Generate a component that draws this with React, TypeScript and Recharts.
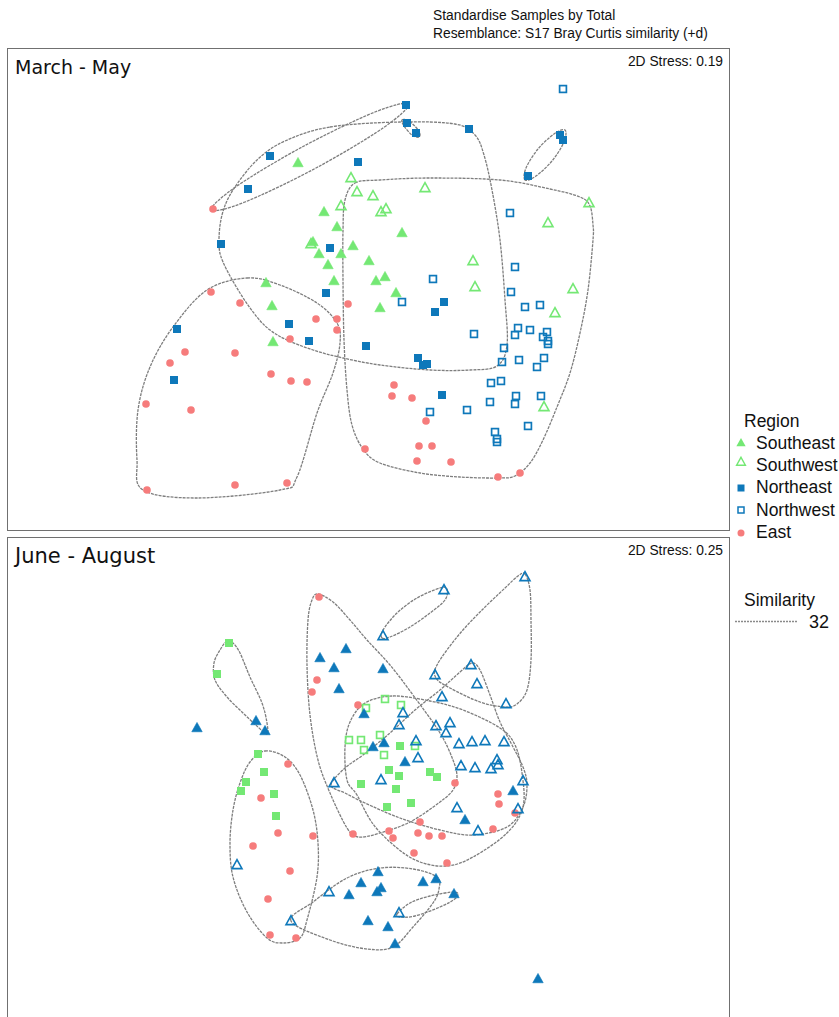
import React from 'react';
import { ScatterChart, Scatter, XAxis, YAxis } from 'recharts';

// ---------- March - May (MDS coordinates, picture units) ----------
const mamSoutheast = [
  [298, 163], [324, 212], [337, 227], [402, 233], [313, 242], [353, 246], [319, 254], [341, 254],
  [328, 265], [369, 261], [334, 281], [376, 281], [385, 277], [266, 283], [396, 293], [272, 306],
  [380, 308], [273, 342],
];
const mamSouthwest = [
  [351, 178], [357, 192], [373, 196], [341, 206], [381, 212], [386, 209], [425, 188], [311, 244],
  [589, 203], [548, 223], [473, 261], [475, 287], [573, 289], [555, 313], [544, 407],
];
const mamNortheast = [
  [406, 105], [407, 123], [416, 133], [469, 129], [560, 135], [563, 140], [528, 176], [270, 156],
  [358, 162], [248, 189], [221, 244], [330, 248], [326, 293], [289, 324], [309, 341], [366, 346],
  [177, 329], [174, 380], [418, 358], [423, 365], [427, 364], [444, 302], [435, 312], [442, 395],
];
const mamNorthwest = [
  [563, 89], [510, 213], [515, 267], [433, 279], [511, 292], [402, 302], [525, 307], [540, 305],
  [518, 328], [530, 330], [547, 332], [515, 335], [474, 334], [543, 337], [548, 341], [548, 344],
  [504, 348], [502, 362], [519, 360], [544, 358], [537, 367], [491, 383], [501, 381], [430, 412],
  [490, 402], [467, 410], [516, 396], [515, 404], [541, 396], [528, 426], [495, 432], [497, 439],
  [497, 442],
];
const mamEast = [
  [213, 209], [211, 292], [240, 303], [348, 304], [316, 319], [337, 319], [337, 330], [290, 339],
  [185, 352], [235, 353], [170, 363], [271, 374], [291, 381], [307, 382], [394, 385], [392, 396],
  [412, 398], [146, 404], [191, 410], [426, 421], [419, 446], [432, 446], [365, 449], [417, 461],
  [451, 462], [498, 477], [520, 473], [235, 485], [287, 483], [147, 490],
];
// similarity 32 contours (traced outlines)
const mamContours = [
  [[211, 210], [237, 186], [304, 146], [375, 112], [409, 104], [383, 128], [316, 168], [245, 202]],
  [[402, 120], [409, 121], [419, 131], [419, 137], [412, 135], [404, 126]],
  [[525, 180], [526, 168], [538, 149], [554, 134], [565, 130], [564, 142], [552, 161], [536, 176]],
  [[330, 127], [400, 122], [455, 124], [475, 135], [484, 155], [492, 190], [500, 240], [505, 300],
   [507, 345], [497, 366], [470, 370], [430, 370], [380, 365], [343, 358], [313, 350], [287, 340],
   [270, 330], [257, 317], [240, 293], [223, 262], [219, 243], [222, 215], [233, 190], [257, 160], [285, 141]],
  [[355, 183], [380, 180], [430, 178], [500, 180], [550, 189], [580, 197], [590, 206], [593, 225],
   [593, 240], [588, 290], [580, 333], [570, 373], [557, 407], [543, 440], [530, 463], [515, 476],
   [498, 478], [460, 477], [420, 473], [380, 463], [363, 449], [352, 425], [347, 390], [344, 340],
   [343, 280], [343, 230], [345, 200]],
  [[247, 278], [280, 285], [317, 303], [337, 323], [340, 343], [333, 373], [317, 413], [297, 477],
   [280, 490], [197, 498], [143, 490], [137, 460], [138, 410], [150, 367], [173, 327], [207, 290]],
];

// ---------- June - August ----------
const jjaGreenFilled = [
  [229, 643], [217, 674], [400, 746], [389, 770], [399, 776], [430, 772], [437, 777], [396, 789],
  [361, 784], [387, 807], [411, 803], [258, 754], [264, 772], [246, 782], [241, 791], [274, 794],
  [276, 816],
];
const jjaGreenHollow = [
  [385, 699], [366, 708], [401, 705], [349, 740], [361, 740], [364, 750], [380, 735], [384, 755],
  [415, 746],
];
const jjaBlueFilled = [
  [346, 649], [320, 658], [334, 668], [383, 669], [339, 689], [364, 714], [256, 721], [265, 731],
  [197, 728], [373, 747], [384, 743], [405, 762], [513, 791], [465, 820], [378, 872], [361, 883],
  [349, 895], [377, 892], [381, 888], [423, 882], [436, 879], [368, 921], [388, 927], [395, 944],
  [454, 894], [538, 979],
];
const jjaBlueHollow = [
  [444, 590], [383, 636], [525, 577], [435, 675], [471, 665], [477, 684], [442, 697], [506, 704],
  [403, 713], [399, 725], [436, 726], [450, 723], [446, 733], [459, 744], [472, 742], [485, 741],
  [504, 742], [416, 741], [418, 758], [461, 766], [475, 768], [491, 769], [497, 760], [498, 765],
  [523, 781], [381, 780], [334, 783], [457, 808], [518, 809], [478, 831], [237, 865], [291, 921],
  [329, 892], [399, 913],
];
const jjaEast = [
  [319, 597], [317, 680], [312, 692], [358, 705], [288, 764], [261, 798], [455, 783], [498, 794],
  [499, 804], [515, 813], [493, 829], [420, 822], [389, 831], [393, 838], [418, 833], [429, 836],
  [442, 836], [414, 853], [447, 863], [353, 834], [278, 833], [313, 836], [253, 846], [290, 871],
  [268, 899], [270, 935], [296, 938],
];
const jjaContours = [
  [[227, 641], [220, 650], [214, 663], [215, 680], [227, 697], [243, 713], [258, 727], [267, 734],
   [267, 723], [262, 703], [250, 677], [240, 653], [233, 643]],
  [[382, 638], [383, 630], [397, 613], [417, 598], [440, 588], [447, 589], [445, 600], [430, 613],
   [410, 627], [390, 637]],
  [[525, 574], [530, 590], [531, 620], [531, 660], [527, 690], [517, 704], [505, 707], [480, 702],
   [450, 688], [436, 678], [437, 665], [457, 637], [480, 612], [505, 588], [518, 576]],
  [[318, 594], [333, 602], [350, 620], [367, 640], [390, 665], [413, 695], [440, 733], [453, 760],
   [457, 777], [453, 790], [440, 802], [410, 822], [380, 833], [358, 837], [347, 828], [330, 793],
   [318, 760], [310, 715], [307, 665], [308, 620], [312, 600]],
  [[331, 785], [345, 768], [363, 755], [390, 733], [415, 710], [440, 690], [460, 672], [472, 663],
   [480, 670], [490, 695], [500, 722], [512, 745], [523, 767], [527, 785], [523, 807], [507, 827],
   [473, 835], [440, 830], [400, 818], [365, 803], [345, 793]],
  [[393, 696], [430, 701], [463, 710], [500, 728], [515, 745], [522, 773], [523, 807], [507, 833],
   [473, 857], [447, 866], [420, 862], [397, 848], [373, 824], [357, 795], [347, 780], [345, 747],
   [350, 722], [365, 703]],
  [[265, 751], [285, 757], [300, 775], [313, 810], [318, 843], [317, 877], [307, 920], [300, 938],
   [283, 943], [267, 938], [247, 912], [233, 877], [230, 843], [233, 810], [240, 783], [250, 762]],
  [[291, 921], [313, 902], [347, 878], [380, 868], [413, 869], [437, 877], [439, 889], [433, 903],
   [413, 927], [393, 947], [367, 949], [330, 940]],
  [[397, 914], [410, 903], [430, 896], [455, 892], [456, 898], [440, 907], [415, 916], [400, 917]],
];

const regionLabels = ['Southeast', 'Southwest', 'Northeast', 'Northwest', 'East'];
const similarityLevels = ['32'];

const GREEN = '#74e874';
const BLUE = '#0e78ba';
const RED = '#f67c7c';
const CONTOUR = '#7e7e7e';

const toPts = (arr: number[][]) => arr.map(([x, y]) => ({ x, y }));

// closed Catmull-Rom curve factory (passes through the traced outline points)
function closedSmooth(context: any) {
  let pts: number[][] = [];
  return {
    areaStart() {},
    areaEnd() {},
    lineStart() { pts = []; },
    point(x: number, y: number) { pts.push([+x, +y]); },
    lineEnd() {
      const n = pts.length;
      if (!n) return;
      context.moveTo(pts[0][0], pts[0][1]);
      for (let i = 0; i < n; i++) {
        const p0 = pts[(i - 1 + n) % n];
        const p1 = pts[i];
        const p2 = pts[(i + 1) % n];
        const p3 = pts[(i + 2) % n];
        context.bezierCurveTo(
          p1[0] + (p2[0] - p0[0]) / 6, p1[1] + (p2[1] - p0[1]) / 6,
          p2[0] - (p3[0] - p1[0]) / 6, p2[1] - (p3[1] - p1[1]) / 6,
          p2[0], p2[1],
        );
      }
      context.closePath();
    },
  };
}

const triPath = (cx: number, cy: number, s: number) =>
  `${cx},${cy - s * 0.62} ${cx + s * 0.58},${cy + s * 0.42} ${cx - s * 0.58},${cy + s * 0.42}`;

const FilledTri = (color: string) => (p: any) =>
  <polygon points={triPath(p.cx, p.cy, 9)} fill={color} stroke={color} strokeWidth={0.6} />;
const HollowTri = (color: string) => (p: any) =>
  <polygon points={triPath(p.cx, p.cy, 8.6)} fill="none" stroke={color} strokeWidth={1.6} strokeLinejoin="miter" />;
const FilledSq = (color: string) => (p: any) =>
  <rect x={p.cx - 4} y={p.cy - 4} width={8} height={8} fill={color} />;
const HollowSq = (color: string) => (p: any) =>
  <rect x={p.cx - 3.4} y={p.cy - 3.4} width={6.8} height={6.8} fill="none" stroke={color} strokeWidth={1.7} />;
const Dot = (color: string) => (p: any) => <circle cx={p.cx} cy={p.cy} r={3.8} fill={color} />;
const NoShape = () => <g />;

const lineStyle = { stroke: CONTOUR, strokeWidth: 1.3, strokeDasharray: '3 1' };

function Panel({ width, height, xDomain, yDomain, contours, series }: any) {
  return (
    <ScatterChart width={width} height={height} margin={{ top: 0, right: 0, bottom: 0, left: 0 }}>
      <XAxis type="number" dataKey="x" domain={xDomain} hide allowDataOverflow />
      <YAxis type="number" dataKey="y" domain={yDomain} hide reversed allowDataOverflow />
      {contours.map((c: number[][], i: number) => (
        <Scatter
          key={`c${i}`}
          data={toPts(c)}
          line={lineStyle}
          lineType="joint"
          lineJointType={closedSmooth as any}
          shape={NoShape}
          isAnimationActive={false}
        />
      ))}
      {series.map((s: any, i: number) => (
        <Scatter key={`s${i}`} name={s.name} data={toPts(s.data)} shape={s.shape} isAnimationActive={false} />
      ))}
    </ScatterChart>
  );
}

const SANS = '"Liberation Sans", Arial, sans-serif';
const VERD = '"DejaVu Sans", Verdana, sans-serif';

export default function App() {
  const frame = (top: number, height: number) => ({
    position: 'absolute' as const, left: 7, top, width: 723, height,
    border: '1px solid #707070', boxSizing: 'border-box' as const,
  });
  const legendMarkers = [
    (x: number, y: number) => <polygon points={triPath(x, y, 8)} fill={GREEN} />,
    (x: number, y: number) => <polygon points={triPath(x, y, 7.6)} fill="none" stroke={GREEN} strokeWidth={1.4} />,
    (x: number, y: number) => <rect x={x - 3.5} y={y - 3.5} width={7} height={7} fill={BLUE} />,
    (x: number, y: number) => <rect x={x - 3} y={y - 3} width={6} height={6} fill="none" stroke={BLUE} strokeWidth={1.5} />,
    (x: number, y: number) => <circle cx={x} cy={y} r={3.5} fill={RED} />,
  ];
  const markerY = [443, 462, 488, 510, 533];
  const textY = [443, 465, 487, 510, 532];
  return (
    <div style={{ position: 'absolute', left: 0, top: 0, width: 839, height: 1017, overflow: 'hidden', background: '#fff' }}>
      <div style={frame(48, 483)} />
      <div style={frame(537, 500)} />
      <div style={{ position: 'absolute', left: 8, top: 49 }}>
        <Panel
          width={721}
          height={481}
          xDomain={[8, 729]}
          yDomain={[49, 530]}
          contours={mamContours}
          series={[
            { name: 'East', data: mamEast, shape: Dot(RED) },
            { name: 'Southeast', data: mamSoutheast, shape: FilledTri(GREEN) },
            { name: 'Southwest', data: mamSouthwest, shape: HollowTri(GREEN) },
            { name: 'Northeast', data: mamNortheast, shape: FilledSq(BLUE) },
            { name: 'Northwest', data: mamNorthwest, shape: HollowSq(BLUE) },
          ]}
        />
      </div>
      <div style={{ position: 'absolute', left: 8, top: 538 }}>
        <Panel
          width={721}
          height={479}
          xDomain={[8, 729]}
          yDomain={[538, 1017]}
          contours={jjaContours}
          series={[
            { name: 'East', data: jjaEast, shape: Dot(RED) },
            { name: 'Green filled', data: jjaGreenFilled, shape: FilledSq(GREEN) },
            { name: 'Green hollow', data: jjaGreenHollow, shape: HollowSq(GREEN) },
            { name: 'Blue filled', data: jjaBlueFilled, shape: FilledTri(BLUE) },
            { name: 'Blue hollow', data: jjaBlueHollow, shape: HollowTri(BLUE) },
          ]}
        />
      </div>
      <svg width={839} height={1017} style={{ position: 'absolute', left: 0, top: 0, pointerEvents: 'none' }}>
        <text x={433} y={20} fontFamily={SANS} fontSize={13.8} fill="#111">Standardise Samples by Total</text>
        <text x={433} y={38} fontFamily={SANS} fontSize={13.8} fill="#111">Resemblance: S17 Bray Curtis similarity (+d)</text>
        <text x={15} y={74} fontFamily={VERD} fontSize={19} fill="#111">March - May</text>
        <text x={723} y={66} fontFamily={SANS} fontSize={13.8} fill="#111" textAnchor="end">2D Stress: 0.19</text>
        <text x={15} y={563} fontFamily={VERD} fontSize={21} fill="#111">June - August</text>
        <text x={723} y={555} fontFamily={SANS} fontSize={13.8} fill="#111" textAnchor="end">2D Stress: 0.25</text>
        <text x={744} y={427} fontFamily={SANS} fontSize={17.5} fill="#111">Region</text>
        {regionLabels.map((r, i) => (
          <g key={r}>
            {legendMarkers[i](741, markerY[i])}
            <text x={756} y={textY[i] + 6.3} fontFamily={SANS} fontSize={17.5} fill="#111">{r}</text>
          </g>
        ))}
        <text x={744} y={606} fontFamily={SANS} fontSize={17.5} fill="#111">Similarity</text>
        {similarityLevels.map((s) => (
          <g key={s}>
            <line x1={735} x2={798} y1={621.5} y2={621.5} stroke="#8a8a8a" strokeWidth={1.3} strokeDasharray="2 1" />
            <text x={809} y={628} fontFamily={SANS} fontSize={18} fill="#111">{s}</text>
          </g>
        ))}
      </svg>
    </div>
  );
}
